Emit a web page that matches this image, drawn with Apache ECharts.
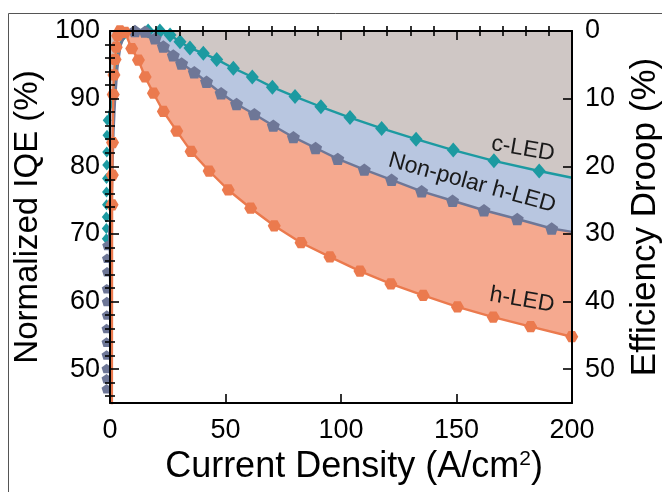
<!DOCTYPE html>
<html>
<head>
<meta charset="utf-8">
<script src="https://cdn.jsdelivr.net/npm/echarts@6/dist/echarts.min.js"></script>
<style>
  html, body { margin: 0; padding: 0; background: #fff; }
  #chart { width: 662px; height: 492px; }
</style>
</head>
<body>
<div id="chart"></div>
<script>
// Current density (A/cm^2) and normalized IQE (%) for the three devices.
// "low" = points measured at very small current density (hugging the y axis),
// "rise" = points along the steep rise to the peak, drawn without markers,
// "end" = the value where each curve meets the right edge at 200 A/cm^2.

// c-LED
const cLowJ = [-1.6, -1.6, -1.6, -1.5, -1.5, -1.5, -1.4, -1.4, -1.3, -1.2];
const cLowIQE = [69.3, 70.8, 72.5, 74.3, 76.2, 78.2, 80.2, 82.1, 84.6, 86.8];
const cRiseJ = [1.5, 2.2, 3.2, 5, 8, 12];
const cRiseIQE = [90.2, 93.4, 96.2, 98.5, 99.6, 100];
const cJ = [16.5, 21.6, 26, 30.3, 34.6, 40.4, 46.2, 53.4, 61.6, 70.3, 80.1, 91.3, 103.9, 117.6, 132.5, 148.6, 166.2, 185.8];
const cIQE = [100, 100, 99.4, 98.4, 97.5, 96.7, 95.8, 94.5, 93.2, 91.7, 90.3, 88.8, 87.2, 85.6, 84.0, 82.4, 80.8, 79.3];
const cEndJ = [200];
const cEndIQE = [78.3];

// Non-polar h-LED
const npLowJ = [-1.5, -1.5, -1.5, -1.5, -1.5, -1.5, -1.4, -1.4, -1.4, -1.3, -1.3, -1.2];
const npLowIQE = [47.1, 48.6, 50.1, 52.1, 54.0, 56.0, 58.0, 60.0, 61.9, 64.4, 66.4, 68.3];
const npRiseJ = [0.6, 1.0, 1.5, 2.2, 3.2, 4.5, 6.5];
const npRiseIQE = [73, 79, 85, 90, 94.5, 97.8, 99.5];
const npJ = [10.8, 15.2, 19.5, 23.1, 27.4, 31.0, 36.5, 41.8, 48.1, 54.8, 62.5, 70.7, 79.4, 89.0, 98.6, 110.1, 121.9, 134.9, 148.3, 161.9, 176.3, 191.2];
const npIQE = [100, 99.9, 98.9, 97.7, 96.4, 95.2, 93.9, 92.5, 90.8, 89.2, 87.7, 86.0, 84.3, 82.7, 81.1, 79.5, 78.0, 76.3, 74.9, 73.5, 72.2, 70.8];
const npEndJ = [200];
const npEndIQE = [70.3];

// h-LED
const hJ = [0.8, 0.9, 1.0, 1.1, 1.4, 1.7, 2.2, 2.7, 3.3, 4.3, 6.5, 9.4, 12.3, 15.2, 18.8, 23.1, 28.9, 35.1, 42.9, 51.2, 60.9, 71.1, 82.7, 95.2, 108.2, 121.6, 135.6, 150.4, 165.9, 182.1, 199.9];
const hIQE = [40, 74.3, 78.7, 83.5, 90.6, 93.5, 95.8, 97.6, 99.3, 100, 99.8, 97.4, 95.7, 93.2, 90.8, 88.1, 85.2, 82.2, 79.3, 76.5, 73.8, 71.2, 68.7, 66.6, 64.5, 62.6, 60.9, 59.2, 57.7, 56.3, 54.8];

// Axis ticks and labels
const xMajor = [0, 50, 100, 150, 200];
const xMinor = [10, 20, 30, 40, 60, 70, 80, 90, 110, 120, 130, 140, 160, 170, 180, 190];
const iqeMajor = [50, 60, 70, 80, 90, 100];
const iqeMinor = [46, 48, 52, 54, 56, 58, 62, 64, 66, 68, 72, 74, 76, 78, 82, 84, 86, 88, 92, 94, 96, 98];
const droopMajor = [0, 10, 20, 30, 40, 50];
const droopMinor = [2, 4, 6, 8, 12, 14, 16, 18, 22, 24, 26, 28, 32, 34, 36, 38, 42, 44, 46, 48, 52, 54];

const pairs = (xs, ys) => xs.map((x, i) => [x, ys[i]]);
const bare = (xs, ys) => xs.map((x, i) => ({ value: [x, ys[i]], symbol: 'none' }));
// low-current points sit tucked against the axis, so their markers are drawn smaller
const small = (xs, ys, size) => xs.map((x, i) => ({ value: [x, ys[i]], symbolSize: size }));

const cData = [...small(cLowJ, cLowIQE, [9, 11]), ...bare(cRiseJ, cRiseIQE), ...pairs(cJ, cIQE), ...bare(cEndJ, cEndIQE)];
const npData = [...small(npLowJ, npLowIQE, 10), ...bare(npRiseJ, npRiseIQE), ...pairs(npJ, npIQE), ...bare(npEndJ, npEndIQE)];
const hData = pairs(hJ, hIQE);

const FONT = '"Liberation Sans", Arial, sans-serif';
const TEAL = '#1c9aa1', SLATE = '#6e7797', ORANGE = '#eb7a4e';
const GRAY_FILL = '#cfc7c5', BLUE_FILL = '#b8c6e0', SALMON_FILL = '#f5a98f';

const PENTAGON = 'path://M50,0L97.55,34.55L79.39,90.45L20.61,90.45L2.45,34.55Z';
const HEXAGON = 'path://M25,6.7L75,6.7L100,50L75,93.3L25,93.3L0,50Z';

const tickOnly = (values, len) => ({
  show: true, inside: true, length: len, customValues: values,
  lineStyle: { color: '#000', width: 1.6 }
});

function xAxisPair(position, withLabels) {
  return [
    {
      type: 'value', position, min: 0, max: 200, gridIndex: 0, z: 10,
      axisLine: { show: true, onZero: false, lineStyle: { color: '#000', width: 2 } },
      axisTick: tickOnly(xMajor, 9),
      axisLabel: withLabels
        ? { show: true, customValues: xMajor, fontFamily: FONT, fontSize: 27, color: '#000', margin: 14 }
        : { show: false },
      splitLine: { show: false },
      name: withLabels ? 'Current Density (A/cm{sup|2})' : '',
      nameLocation: 'middle',
      nameGap: 42,
      nameTextStyle: {
        fontFamily: FONT, fontSize: 36, color: '#000', padding: [0, 0, 0, 26],
        rich: { sup: { fontFamily: FONT, fontSize: 21, color: '#000', verticalAlign: 'top', padding: [0, 0, 15, 0] } }
      }
    },
    {
      type: 'value', position, min: 0, max: 200, gridIndex: 0, z: 10,
      axisLine: { show: false },
      axisTick: tickOnly(xMinor, 5),
      axisLabel: { show: false },
      splitLine: { show: false }
    }
  ];
}

const option = {
  backgroundColor: '#fff',
  animation: false,
  grid: { left: 110, right: 90, top: 31, bottom: 89, containLabel: false, outerBoundsMode: 'none' },
  xAxis: [...xAxisPair('bottom', true), ...xAxisPair('top', false)],
  yAxis: [
    {
      type: 'value', position: 'left', min: 45, max: 100, z: 10,
      axisLine: { show: true, onZero: false, lineStyle: { color: '#000', width: 2 } },
      axisTick: tickOnly(iqeMajor, 9),
      axisLabel: { show: true, customValues: iqeMajor, fontFamily: FONT, fontSize: 27, color: '#000', margin: 10 },
      splitLine: { show: false },
      name: 'Normalized IQE (%)',
      nameLocation: 'middle',
      nameGap: 64,
      nameTextStyle: { fontFamily: FONT, fontSize: 33, color: '#000' }
    },
    {
      type: 'value', position: 'left', min: 45, max: 100, z: 10,
      axisLine: { show: false },
      axisTick: tickOnly(iqeMinor, 5),
      axisLabel: { show: false },
      splitLine: { show: false }
    },
    {
      type: 'value', position: 'right', min: 0, max: 55, inverse: true, z: 10,
      axisLine: { show: true, onZero: false, lineStyle: { color: '#000', width: 2 } },
      axisTick: tickOnly(droopMajor, 9),
      axisLabel: { show: true, customValues: droopMajor, fontFamily: FONT, fontSize: 27, color: '#000', margin: 13 },
      splitLine: { show: false },
      name: 'Efficiency Droop (%)',
      nameLocation: 'middle',
      nameGap: 56,
      nameTextStyle: { fontFamily: FONT, fontSize: 35, color: '#000' }
    },
    {
      type: 'value', position: 'right', min: 0, max: 55, inverse: true, z: 10,
      axisLine: { show: false },
      axisTick: tickOnly(droopMinor, 5),
      axisLabel: { show: false },
      splitLine: { show: false }
    }
  ],
  series: [
    // shaded bands: each curve is filled up to the 100 % line, later ones on top
    { type: 'line', name: 'h-LED band', data: hData, z: 1, silent: true, showSymbol: false,
      lineStyle: { width: 0 }, areaStyle: { color: SALMON_FILL, opacity: 1, origin: 'end' } },
    { type: 'line', name: 'Non-polar band', data: npData, z: 1, silent: true, showSymbol: false,
      lineStyle: { width: 0 }, areaStyle: { color: BLUE_FILL, opacity: 1, origin: 'end' } },
    { type: 'line', name: 'c-LED band', data: cData, z: 1, silent: true, showSymbol: false,
      lineStyle: { width: 0 }, areaStyle: { color: GRAY_FILL, opacity: 1, origin: 'end' } },
    // curves with markers
    { type: 'line', name: 'c-LED', data: cData, z: 3, clip: false,
      symbol: 'diamond', symbolSize: [13, 15], showAllSymbol: true,
      lineStyle: { color: TEAL, width: 2.4 }, itemStyle: { color: TEAL } },
    { type: 'line', name: 'Non-polar h-LED', data: npData, z: 4, clip: false,
      symbol: PENTAGON, symbolSize: 13, symbolKeepAspect: true, showAllSymbol: true,
      lineStyle: { color: SLATE, width: 2.4 }, itemStyle: { color: SLATE } },
    { type: 'line', name: 'h-LED', data: hData, z: 5,
      symbol: HEXAGON, symbolSize: 13, symbolKeepAspect: true, showAllSymbol: true,
      lineStyle: { color: ORANGE, width: 2.4 }, itemStyle: { color: ORANGE } }
  ],
  graphic: [
    { type: 'line', z: 100, shape: { x1: 8.5, y1: 13.5, x2: 662, y2: 13.5 }, style: { stroke: '#555', lineWidth: 1 } },
    { type: 'line', z: 100, shape: { x1: 8.5, y1: 13.5, x2: 8.5, y2: 492 }, style: { stroke: '#555', lineWidth: 1 } },
    { type: 'text', z: 100, x: 523, y: 149, rotation: -0.17,
      style: { text: 'c-LED', fontFamily: FONT, fontSize: 23, fill: '#1a1a1a', align: 'center', verticalAlign: 'middle' } },
    { type: 'text', z: 100, x: 472, y: 183, rotation: -0.27,
      style: { text: 'Non-polar h-LED', fontFamily: FONT, fontSize: 23, fill: '#1a1a1a', align: 'center', verticalAlign: 'middle' } },
    { type: 'text', z: 100, x: 522, y: 300, rotation: -0.17,
      style: { text: 'h-LED', fontFamily: FONT, fontSize: 23, fill: '#1a1a1a', align: 'center', verticalAlign: 'middle' } }
  ]
};

const chart = echarts.init(document.getElementById('chart'), null, { renderer: 'canvas' });
chart.setOption(option);
</script>
</body>
</html>
